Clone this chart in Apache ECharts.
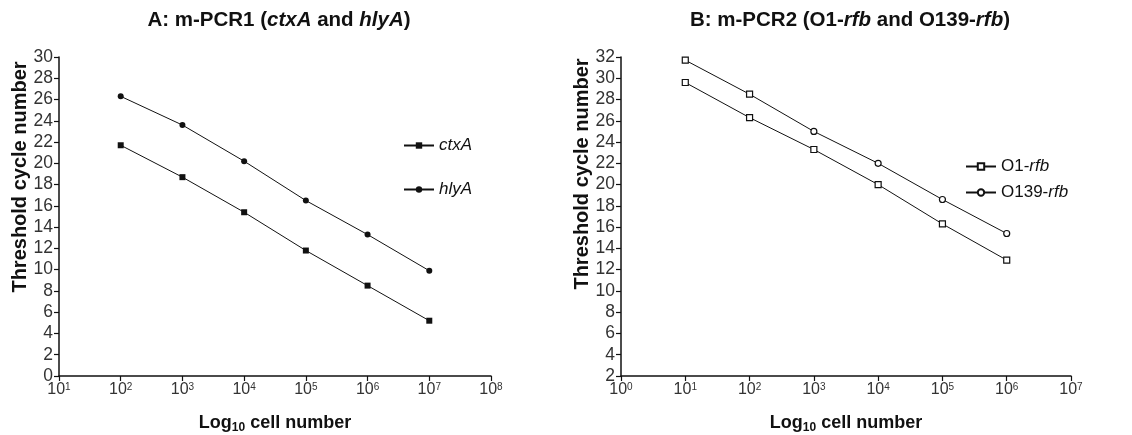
<!DOCTYPE html>
<html>
<head>
<meta charset="utf-8">
<script src="https://cdn.jsdelivr.net/npm/echarts@6/dist/echarts.min.js"></script>
<style>html,body{margin:0;padding:0;background:#fff}#c{width:1132px;height:435px}</style>
</head>
<body>
<div id="c"></div>
<script>
// ---- Data ----
const cellsA = [1e2, 1e3, 1e4, 1e5, 1e6, 1e7];
const ctxA = [21.7, 18.7, 15.4, 11.8, 8.5, 5.2];
const hlyA = [26.3, 23.6, 20.2, 16.5, 13.3, 9.9];

const cellsB = [1e1, 1e2, 1e3, 1e4, 1e5, 1e6];
const o1rfb = [29.6, 26.3, 23.3, 20.0, 16.3, 12.9];
const o139rfb = [31.7, 28.5, 25.0, 22.0, 18.6, 15.4];

const xRangeA = [1e1, 1e8];
const xRangeB = [1e0, 1e7];
const yRangeA = [0, 30];
const yRangeB = [2, 32];

const titleA = ['A: m-PCR1 (', 'ctxA', ' and ', 'hlyA', ')'];
const titleB = ['B: m-PCR2 (O1-', 'rfb', ' and O139-', 'rfb', ')'];
const yTitle = 'Threshold cycle number';

const FONT = 'Liberation Sans, Arial, sans-serif';
const INK = '#111';

function pts(xs, ys) { return xs.map((x, i) => [x, ys[i]]); }
function richTitle(parts) {
  return parts.map((p, i) => (i % 2 ? '{i|' + p + '}' : '{n|' + p + '}')).join('');
}
const titleRich = {
  n: { fontFamily: FONT, fontWeight: 'bold', fontSize: 20.5, color: INK },
  i: { fontFamily: FONT, fontWeight: 'bold', fontStyle: 'italic', fontSize: 20.5, color: INK }
};

function xAxis(idx, range) {
  return {
    type: 'log', logBase: 10, gridIndex: idx, min: range[0], max: range[1], interval: 1,
    axisLine: { onZero: false, lineStyle: { color: INK, width: 1.5 } },
    axisTick: { length: 5, lineStyle: { color: INK, width: 1.2 } },
    splitLine: { show: false },
    axisLabel: {
      margin: 6,
      formatter: v => '{b|10}{s|' + Math.round(Math.log10(v)) + '}',
      rich: {
        b: { fontFamily: FONT, fontSize: 16, lineHeight: 16, color: '#333' },
        s: { fontFamily: FONT, fontSize: 10, lineHeight: 16, color: '#333', verticalAlign: 'top', padding: [0, 0, 6, 0] }
      }
    },
    name: '{b|Log}{sub|10}{b| cell number}',
    nameLocation: 'middle', nameGap: 36,
    nameTextStyle: {
      rich: {
        b: { fontFamily: FONT, fontWeight: 'bold', fontSize: 18, color: INK },
        sub: { fontFamily: FONT, fontWeight: 'bold', fontSize: 12, color: INK, padding: [10, 0, 0, 0] }
      }
    }
  };
}
function yAxis(idx, range) {
  return {
    type: 'value', gridIndex: idx, min: range[0], max: range[1], interval: 2,
    axisLine: { show: true, onZero: false, lineStyle: { color: INK, width: 1.5 } },
    axisTick: { show: true, length: 5, lineStyle: { color: INK, width: 1.2 } },
    splitLine: { show: false },
    axisLabel: { fontFamily: FONT, fontSize: 17.5, color: '#333', margin: 6 }
  };
}
function lineSeries(name, xi, data, symbol, filled, size) {
  return {
    name, type: 'line', xAxisIndex: xi, yAxisIndex: xi, data,
    symbol, symbolSize: size, showSymbol: true,
    lineStyle: { color: INK, width: 1 },
    itemStyle: { color: filled ? INK : '#fff', borderColor: INK, borderWidth: filled ? 0 : 1.2 },
    emphasis: { disabled: true }, animation: false, z: 3
  };
}

const chart = echarts.init(document.getElementById('c'), null, { renderer: 'canvas' });
const o139Series = lineSeries('O139-rfb', 1, pts(cellsB, o139rfb), 'circle', false, 6);
o139Series.symbol = (val, params) => (params.dataIndex < 2 ? 'rect' : 'circle');

chart.setOption({
  animation: false,
  title: [
    { text: richTitle(titleA), left: 274, top: 5, textAlign: 'center', textStyle: { rich: titleRich } },
    { text: richTitle(titleB), left: 845, top: 5, textAlign: 'center', textStyle: { rich: titleRich } }
  ],
  grid: [
    { left: 59, right: 641, top: 57, bottom: 59, containLabel: false, outerBoundsMode: 'none' },
    { left: 621, right: 61, top: 57, bottom: 59, containLabel: false, outerBoundsMode: 'none' }
  ],
  xAxis: [xAxis(0, xRangeA), xAxis(1, xRangeB)],
  yAxis: [yAxis(0, yRangeA), yAxis(1, yRangeB)],
  legend: [
    {
      data: ['ctxA', 'hlyA'], padding: 0,
      orient: 'vertical', left: 403, top: 137, itemGap: 27, itemWidth: 30, itemHeight: 8,
      formatter: n => '{i|' + n + '}',
      textStyle: { rich: { i: { fontFamily: FONT, fontStyle: 'italic', fontSize: 17, color: INK } } }
    },
    {
      data: ['O1-rfb', 'O139-rfb'], padding: 0,
      orient: 'vertical', left: 965, top: 158, itemGap: 9, itemWidth: 30, itemHeight: 8,
      formatter: n => { const k = n.indexOf('-'); return '{n|' + n.slice(0, k + 1) + '}{i|' + n.slice(k + 1) + '}'; },
      textStyle: { rich: {
        n: { fontFamily: FONT, fontSize: 17, color: INK },
        i: { fontFamily: FONT, fontStyle: 'italic', fontSize: 17, color: INK }
      } }
    }
  ],
  graphic: [
    { type: 'text', x: 20, y: 177, rotation: Math.PI / 2,
      style: { text: yTitle, font: 'bold 20px ' + FONT, fill: INK, textAlign: 'center', textVerticalAlign: 'middle' } },
    { type: 'text', x: 582, y: 174, rotation: Math.PI / 2,
      style: { text: yTitle, font: 'bold 20px ' + FONT, fill: INK, textAlign: 'center', textVerticalAlign: 'middle' } }
  ],
  series: [
    lineSeries('ctxA', 0, pts(cellsA, ctxA), 'rect', true, 6),
    lineSeries('hlyA', 0, pts(cellsA, hlyA), 'circle', true, 6),
    lineSeries('O1-rfb', 1, pts(cellsB, o1rfb), 'rect', false, 6),
    o139Series
  ]
});
</script>
</body>
</html>
